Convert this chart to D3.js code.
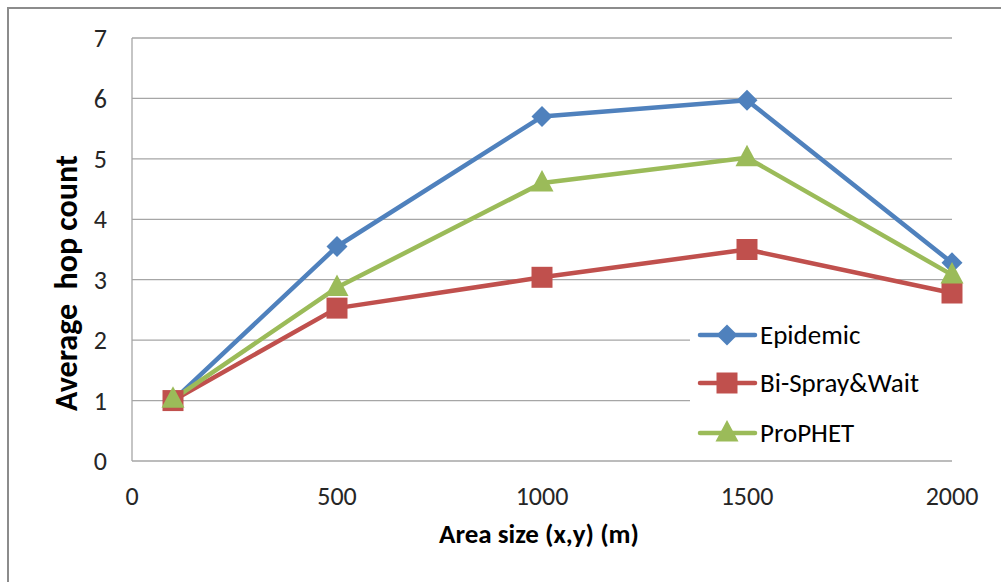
<!DOCTYPE html>
<html><head><meta charset="utf-8">
<script src="https://cdn.jsdelivr.net/npm/d3@7"></script>
<style>body{margin:0;background:#fff;} svg{display:block;font-family:Carlito,Calibri,"Open Sans",sans-serif;}</style>
</head><body>
<svg id="c" width="1001" height="582"></svg>
<script>
const xValues = [100, 500, 1000, 1500, 2000];
const epidemic = [1.0, 3.55, 5.7, 5.97, 3.28];
const biSprayWait = [1.0, 2.53, 3.04, 3.5, 2.78];
const prophet = [1.02, 2.87, 4.6, 5.02, 3.08];
const seriesNames = ["Epidemic", "Bi-Spray&Wait", "ProPHET"];
const xTicks = [0, 500, 1000, 1500, 2000];
const yTicks = [0, 1, 2, 3, 4, 5, 6, 7];

const svg = d3.select("#c");
svg.append("rect").attr("x", 8).attr("y", 8).attr("width", 1010).attr("height", 600)
  .attr("fill", "#fff").attr("stroke", "#8c8c8c").attr("stroke-width", 2);

const x = d3.scaleLinear().domain([0, 2000]).range([132, 952]);
const y = d3.scaleLinear().domain([0, 7]).range([461, 38]);

svg.append("g").selectAll("line").data(yTicks.slice(1)).join("line")
  .attr("x1", 132).attr("x2", 952).attr("y1", d => y(d)).attr("y2", d => y(d))
  .attr("stroke", "#a6a6a6").attr("stroke-width", 1.3);
svg.append("line").attr("x1", 132).attr("x2", 132).attr("y1", y(7)).attr("y2", y(0)).attr("stroke", "#a6a6a6").attr("stroke-width", 1.3);
svg.append("line").attr("x1", 132).attr("x2", 952).attr("y1", y(0)).attr("y2", y(0)).attr("stroke", "#a6a6a6").attr("stroke-width", 1.3);

svg.append("g").selectAll("text").data(yTicks).join("text")
  .attr("x", 107).attr("y", d => y(d)).attr("dy", "0.35em").attr("text-anchor", "end")
  .attr("font-size", 26).attr("fill", "#262626").text(d => d);
svg.append("g").selectAll("text").data(xTicks).join("text")
  .attr("x", d => x(d)).attr("y", 505).attr("text-anchor", "middle")
  .attr("font-size", 26).attr("fill", "#262626").text(d => d);

svg.append("text").attr("transform", "translate(77,283) rotate(-90)").attr("text-anchor", "middle")
  .attr("font-size", 32).attr("font-weight", "bold").attr("fill", "#000")
  .style("white-space", "pre").text("Average  hop count");
svg.append("text").attr("x", 539).attr("y", 543).attr("text-anchor", "middle")
  .attr("font-size", 27).attr("font-weight", "bold").attr("fill", "#000").text("Area size (x,y) (m)");

const colors = ["#4F81BD", "#C0504D", "#9BBB59"];
const data = [epidemic, biSprayWait, prophet];

svg.append("rect").attr("x", 690).attr("y", 312).attr("width", 268).attr("height", 143).attr("fill", "#fff");

const line = d3.line().x((d, i) => x(xValues[i])).y(d => y(d));
const markerPath = (k) => {
  if (k === 0) { const s = 10.5; return `M0,${-s}L${s},0L0,${s}L${-s},0Z`; }
  if (k === 1) { const s = 10.5; return `M${-s},${-s}H${s}V${s}H${-s}Z`; }
  return `M0,-13L11.5,8.5L-11.5,8.5Z`;
};
data.forEach((vals, k) => {
  svg.append("path").datum(vals).attr("d", line).attr("fill", "none")
    .attr("stroke", colors[k]).attr("stroke-width", 4.5).attr("stroke-linejoin", "round");
});
data.forEach((vals, k) => {
  svg.append("g").selectAll("path").data(vals).join("path")
    .attr("transform", (d, i) => `translate(${x(xValues[i])},${y(d)})`)
    .attr("d", markerPath(k)).attr("fill", colors[k]);
});

const legY = [335, 383, 433];
seriesNames.forEach((name, k) => {
  const g = svg.append("g").attr("transform", `translate(0,${legY[k]})`);
  g.append("line").attr("x1", 700).attr("x2", 755).attr("y1", 0).attr("y2", 0)
    .attr("stroke", colors[k]).attr("stroke-width", 4.5).attr("stroke-linecap", "round");
  g.append("path").attr("transform", "translate(727,0)").attr("d", markerPath(k)).attr("fill", colors[k]);
  g.append("text").attr("x", 760).attr("y", 0).attr("dy", "0.35em").attr("font-size", 27)
    .attr("fill", "#000").text(name);
});
</script>
</body></html>
